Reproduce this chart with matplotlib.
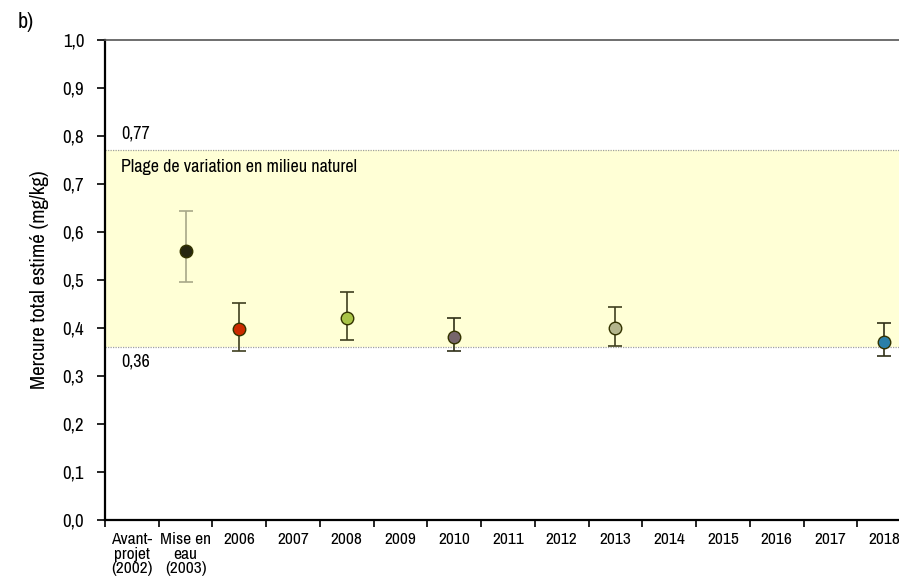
import matplotlib
matplotlib.use("Agg")
import matplotlib.pyplot as plt
from matplotlib import font_manager
import numpy as np

# prefer a narrow sans face when one is installed
_names = sorted({f.name for f in font_manager.fontManager.ttflist})
_narrow = [n for n in _names if "Narrow" in n] + [n for n in _names if "Condensed" in n]
plt.rcParams['font.family'] = _narrow[:1] + ['Liberation Sans', 'DejaVu Sans']

categories = ["Avant-\nprojet\n(2002)", "Mise en\neau\n(2003)", "2006", "2007", "2008", "2009",
              "2010", "2011", "2012", "2013", "2014", "2015", "2016", "2017", "2018"]
point_cats = ["Mise en\neau\n(2003)", "2006", "2008", "2010", "2013", "2018"]
point_vals = [0.56, 0.398, 0.42, 0.381, 0.401, 0.371]
err_low = [0.496, 0.352, 0.375, 0.352, 0.362, 0.342]
err_high = [0.643, 0.452, 0.474, 0.420, 0.444, 0.410]
point_colors = ["#262610", "#cc2a00", "#a9c447", "#76656b", "#b3b58c", "#2a7fa8"]
bar_colors = ["#a8a888", "#404020", "#404020", "#303018", "#404020", "#303018"]
range_low, range_high = 0.36, 0.77
yticks = np.round(np.arange(0, 1.01, 0.1), 1)

fig = plt.figure(figsize=(8.99, 5.82), dpi=100)
ax = fig.add_axes([105 / 899, 62 / 582, 806 / 899, 480 / 582])

n = len(categories)
ax.set_xlim(-0.5, n - 0.5)
ax.set_ylim(0, 1.0)

# natural range band
ax.axhspan(range_low, range_high, color="#ffffd6", zorder=0, lw=0)
for v in (range_low, range_high):
    ax.axhline(v, color="#a0a0a0", lw=0.9, ls=(0, (1, 1)), zorder=1)

for cat, v, lo, hi, fc, bc in zip(point_cats, point_vals, err_low, err_high, point_colors, bar_colors):
    x = categories.index(cat)
    ax.errorbar([x], [v], yerr=[[v - lo], [hi - v]], fmt="none", ecolor=bc,
                elinewidth=1.2, capsize=5, capthick=1.2, zorder=3)
    ax.plot([x], [v], "o", ms=9, mfc=fc, mec="#333300", mew=1.0, zorder=4)

tr = ax.get_yaxis_transform()
x0 = 16 / 806
ax.text(x0, range_high + 0.018, "0,77", fontsize=13, ha="left", va="bottom", transform=tr)
ax.text(x0, range_low - 0.013, "0,36", fontsize=13, ha="left", va="top", transform=tr)
ax.text(x0, 0.735, "Plage de variation en milieu naturel", fontsize=13, ha="left", va="center",
        transform=tr)

ax.set_yticks(yticks)
ax.set_yticklabels([f"{t:.1f}".replace(".", ",") for t in yticks], fontsize=13.5)
ax.set_ylabel("Mercure total estimé (mg/kg)", fontsize=15, labelpad=10)

ax.set_xticks(np.arange(n))
ax.set_xticklabels(categories, fontsize=12.5, linespacing=0.95, va="top")
ax.set_xticks(np.arange(n + 1) - 0.5, minor=True)
ax.tick_params(axis="x", which="major", length=0, pad=9)
ax.tick_params(axis="x", which="minor", length=5, width=1.2, direction="out")
ax.tick_params(axis="y", length=6, width=1.2, direction="out", pad=9)

for s in ("left", "bottom"):
    ax.spines[s].set_linewidth(1.6)
    ax.spines[s].set_color("black")
ax.spines["top"].set_color("#555555")
ax.spines["top"].set_linewidth(1.2)
ax.spines["right"].set_visible(False)

fig.text(18 / 899, 1 - 22 / 582, "b)", fontsize=16, ha="left", va="center")

fig.savefig("out.png", dpi=100)
